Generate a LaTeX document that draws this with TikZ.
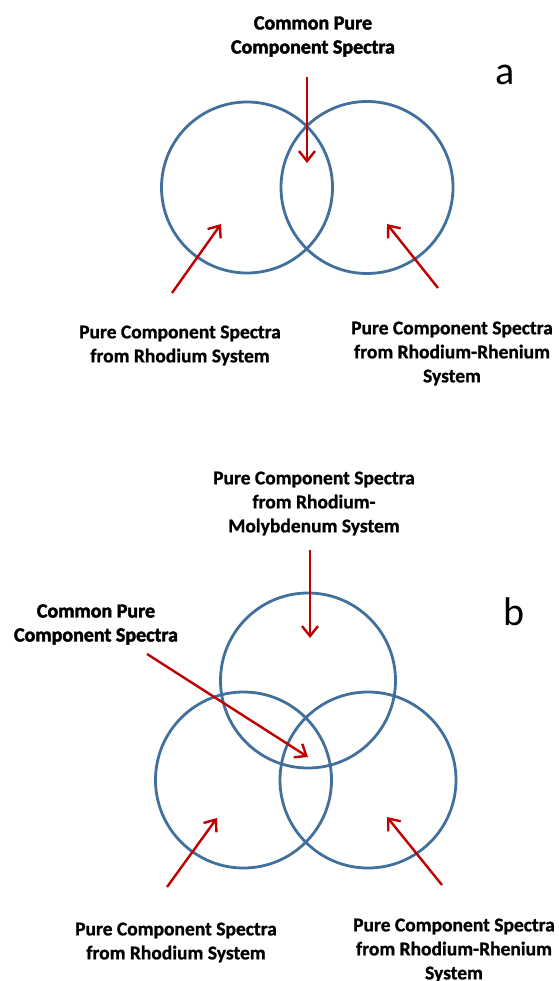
\documentclass[tikz,border=0pt]{standalone}
\usepackage{fontspec}
\setmainfont{Carlito}
\newfontfamily\heavyfont{Carlito Bold}[FakeBold=2.2]
\newfontfamily\medfont{Carlito Bold}[FakeBold=1.0]
\usetikzlibrary{arrows.meta}
\definecolor{circblue}{HTML}{41709C}
\definecolor{arrred}{HTML}{C00000}
\begin{document}
\begin{tikzpicture}[x=1pt,y=-1pt,
  venn/.style={draw=circblue,line width=2.8pt},
  redarrow/.style={draw=arrred,line width=2.4pt,-{Straight Barb[length=10pt,width=16pt,line width=2.4pt]}},
  lbl/.style={align=center,inner sep=0pt,font=\medfont\fontsize{19.5}{24}\selectfont},
  clbl/.style={align=center,inner sep=0pt,font=\heavyfont\fontsize{20}{24}\selectfont},
  letter/.style={inner sep=0pt,anchor=base,font=\fontsize{40}{40}\selectfont}]
\useasboundingbox (0,0) rectangle (558,981);
% ---------- part a ----------
\node[clbl] (acommon) at (313,36.5) {Common Pure\\Component Spectra};
\node[letter] (alet) at (505,85) {a};
\draw[venn] (247,187.5) circle (85.5);
\draw[venn] (367,187.5) circle (86);
\node[lbl] (aleft) at (180,345.5) {Pure Component Spectra\\from Rhodium System};
\node[lbl] (aright) at (452,353.5) {Pure Component Spectra\\from Rhodium-Rhenium\\System};
\coordinate (at1) at (307,77);   \coordinate (at2) at (307,163);
\coordinate (al1) at (172,293);  \coordinate (al2) at (221,224);
\coordinate (ar1) at (438,288);  \coordinate (ar2) at (387,224);
\draw[redarrow] (at1) -- (at2);
\draw[redarrow] (al1) -- (al2);
\draw[redarrow] (ar1) -- (ar2);
% ---------- part b ----------
\node[lbl] (btop) at (314,503.5) {Pure Component Spectra\\from Rhodium-\\Molybdenum System};
\node[letter] (blet) at (514,625) {b};
\node[clbl] (bcommon) at (96,624.5) {Common Pure\\Component Spectra};
\draw[venn] (308,680.5) circle (87.5);
\draw[venn] (243.5,780) circle (88);
\draw[venn] (368,780) circle (88);
\node[lbl] (bleft) at (176,942.5) {Pure Component Spectra\\from Rhodium System};
\node[lbl] (bright) at (454,950.5) {Pure Component Spectra\\from Rhodium-Rhenium\\System};
\coordinate (bt1) at (310,550);  \coordinate (bt2) at (310,638);
\coordinate (bc1) at (147,654);  \coordinate (bc2) at (308,757);
\coordinate (bl1) at (167,887);  \coordinate (bl2) at (217,818);
\coordinate (br1) at (442,885);  \coordinate (br2) at (387,817);
\draw[redarrow] (bt1) -- (bt2);
\draw[redarrow] (bc1) -- (bc2);
\draw[redarrow] (bl1) -- (bl2);
\draw[redarrow] (br1) -- (br2);
\end{tikzpicture}
\end{document}
